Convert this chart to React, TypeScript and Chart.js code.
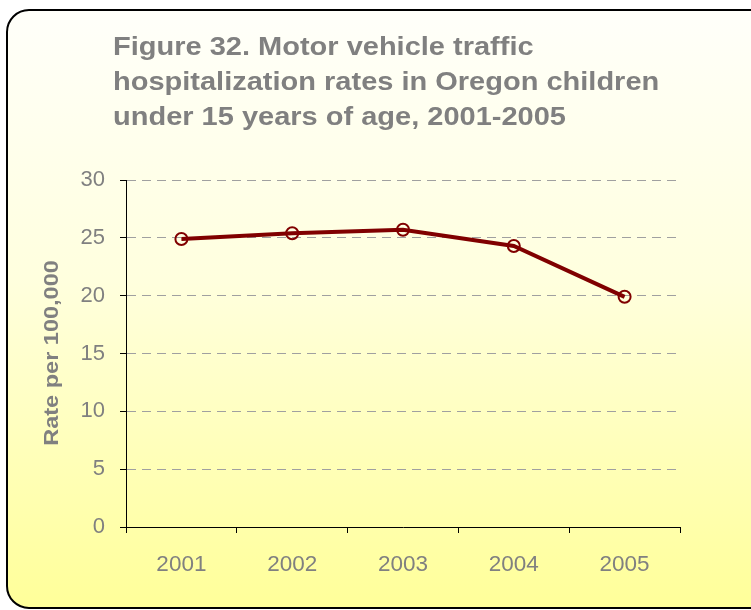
import React, { useEffect, useRef } from "react";
import { Chart, registerables } from "chart.js";

Chart.register(...registerables);

const categories = ["2001", "2002", "2003", "2004", "2005"];
const rates = [24.9, 25.4, 25.7, 24.3, 19.9];
const titleLines = [
  "Figure 32. Motor vehicle traffic",
  "hospitalization rates in Oregon children",
  "under 15 years of age, 2001-2005",
];
const yAxisTitle = "Rate per 100,000";
const yMin = 0;
const yMax = 30;
const yStep = 5;

const FONT = "'Liberation Sans', Arial, sans-serif";
const GRAY = "#808080";

const backgroundPlugin = {
  id: "panelBackground",
  beforeDraw(chart: any) {
    const ctx = chart.ctx;
    const x = 7, y = 10, w = 770, h = 598, r = 22;
    ctx.save();
    const g = ctx.createLinearGradient(0, y, 0, y + h);
    g.addColorStop(0, "#FFFFFA");
    g.addColorStop(0.45, "#FFFFDE");
    g.addColorStop(1, "#FFFF99");
    ctx.beginPath();
    ctx.moveTo(x + r, y);
    ctx.lineTo(x + w - r, y);
    ctx.arcTo(x + w, y, x + w, y + r, r);
    ctx.lineTo(x + w, y + h - r);
    ctx.arcTo(x + w, y + h, x + w - r, y + h, r);
    ctx.lineTo(x + r, y + h);
    ctx.arcTo(x, y + h, x, y + h - r, r);
    ctx.lineTo(x, y + r);
    ctx.arcTo(x, y, x + r, y, r);
    ctx.closePath();
    ctx.fillStyle = g;
    ctx.fill();
    ctx.lineWidth = 2;
    ctx.strokeStyle = "#000000";
    ctx.stroke();
    ctx.restore();
  },
};

const textPlugin = {
  id: "panelText",
  afterDraw(chart: any) {
    const ctx = chart.ctx;
    ctx.save();
    ctx.fillStyle = GRAY;
    ctx.font = `bold 25px ${FONT}`;
    ctx.textAlign = "left";
    ctx.textBaseline = "alphabetic";
    titleLines.forEach((line, i) => {
      ctx.save();
      ctx.translate(113, 55 + i * 35);
      ctx.scale(1.16, 1);
      ctx.fillText(line, 0, 0);
      ctx.restore();
    });
    ctx.translate(52, 353);
    ctx.rotate(-Math.PI / 2);
    ctx.scale(1.12, 1);
    ctx.font = `bold 21px ${FONT}`;
    ctx.textAlign = "center";
    ctx.textBaseline = "middle";
    ctx.fillText(yAxisTitle, 0, 0);
    ctx.restore();
  },
};

export default function App() {
  const ref = useRef<HTMLCanvasElement | null>(null);

  useEffect(() => {
    if (!ref.current) return;
    const chart = new Chart(ref.current, {
      type: "line",
      data: {
        labels: categories,
        datasets: [
          {
            data: rates,
            borderColor: "#800000",
            borderWidth: 4,
            pointRadius: 6,
            pointBorderWidth: 2,
            pointBorderColor: "#800000",
            pointBackgroundColor: "rgba(0,0,0,0)",
            tension: 0,
            fill: false,
          },
        ],
      },
      options: {
        responsive: false,
        animation: false,
        devicePixelRatio: 1,
        layout: { padding: { left: 0, top: 180, right: 71, bottom: 23 } },
        plugins: {
          legend: { display: false },
          title: { display: false },
          tooltip: { enabled: false },
        },
        scales: {
          x: {
            type: "category",
            offset: true,
            grid: {
              offset: true,
              drawOnChartArea: false,
              drawTicks: true,
              tickLength: 6,
              tickColor: "#000000",
              color: "#000000",
            },
            border: { display: true, color: "#000000", width: 1 },
            ticks: {
              color: GRAY,
              font: { family: FONT, size: 22.5 },
              padding: 18,
              maxRotation: 0,
            },
            afterFit(scale: any) {
              scale.height = 60;
            },
          },
          y: {
            min: yMin,
            max: yMax,
            grid: {
              color: (c: any) => (c.tick && c.tick.value === 0 ? "rgba(0,0,0,0)" : "#A0A0A0"),
              lineWidth: 1,
              drawTicks: true,
              tickLength: 6,
              tickColor: "#000000",
              tickBorderDash: [],
            },
            border: { display: true, color: "#000000", width: 1, dash: [9, 6] },
            ticks: {
              stepSize: yStep,
              color: GRAY,
              font: { family: FONT, size: 22 },
              padding: 15,
            },
            afterFit(scale: any) {
              scale.width = 126;
            },
          },
        },
      },
      plugins: [backgroundPlugin, textPlugin],
    } as any);
    return () => chart.destroy();
  }, []);

  return (
    <div style={{ position: "absolute", left: 0, top: 0, width: 751, height: 610 }}>
      <canvas ref={ref} width={751} height={610} style={{ display: "block", width: 751, height: 610 }} />
    </div>
  );
}
